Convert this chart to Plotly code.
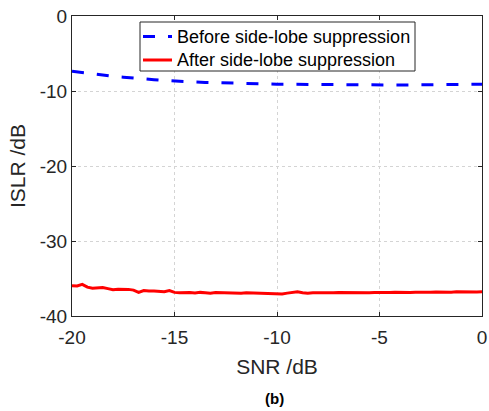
import plotly.graph_objects as go

# SNR axis samples (dB)
snr_before = [-20.0, -19.5, -19.0, -18.5, -18.0, -17.5, -17.0, -16.5, -16.0, -15.5,
              -15.0, -14.5, -14.0, -13.5, -13.0, -12.5, -12.0, -11.5, -11.0, -10.5,
              -10.0, -9.5, -9.0, -8.5, -8.0, -7.5, -7.0, -6.5, -6.0, -5.5,
              -5.0, -4.5, -4.0, -3.5, -3.0, -2.5, -2.0, -1.5, -1.0, -0.5, 0.0]
islr_before = [-7.35, -7.55, -7.75, -7.9, -8.05, -8.15, -8.3, -8.4, -8.5, -8.6,
               -8.7, -8.75, -8.8, -8.85, -8.9, -8.95, -9.0, -9.0, -9.05, -9.1,
               -9.1, -9.1, -9.12, -9.1, -9.12, -9.15, -9.18, -9.2, -9.2, -9.2,
               -9.18, -9.2, -9.2, -9.18, -9.15, -9.15, -9.12, -9.12, -9.1, -9.1, -9.1]

snr_after = [-20.0, -19.75, -19.5, -19.25, -19.0, -18.75, -18.5, -18.25, -18.0, -17.75,
             -17.5, -17.25, -17.0, -16.75, -16.5, -16.25, -16.0, -15.75, -15.5, -15.25,
             -15.0, -14.75, -14.5, -14.25, -14.0, -13.75, -13.5, -13.25, -13.0, -12.75,
             -12.5, -12.25, -12.0, -11.75, -11.5, -11.25, -11.0, -10.75, -10.5, -10.25,
             -10.0, -9.75, -9.5, -9.25, -9.0, -8.75, -8.5, -8.25, -8.0, -7.75,
             -7.5, -7.25, -7.0, -6.75, -6.5, -6.25, -6.0, -5.75, -5.5, -5.25,
             -5.0, -4.75, -4.5, -4.25, -4.0, -3.75, -3.5, -3.25, -3.0, -2.75,
             -2.5, -2.25, -2.0, -1.75, -1.5, -1.25, -1.0, -0.75, -0.5, -0.25, 0.0]
islr_after = [-35.95, -36.0, -35.78, -36.15, -36.3, -36.25, -36.2, -36.35, -36.5, -36.42,
              -36.4, -36.45, -36.55, -36.85, -36.6, -36.68, -36.65, -36.7, -36.75, -36.6,
              -36.85, -36.9, -36.85, -36.88, -36.92, -36.85, -36.9, -36.95, -36.88, -36.9,
              -36.95, -36.88, -36.9, -36.95, -36.9, -36.92, -36.95, -36.9, -36.98, -36.92,
              -36.95, -37.05, -36.95, -36.85, -36.78, -36.9, -36.95, -36.9, -36.92, -36.88,
              -36.92, -36.9, -36.88, -36.9, -36.92, -36.88, -36.9, -36.88, -36.9, -36.86,
              -36.88, -36.85, -36.88, -36.84, -36.86, -36.82, -36.85, -36.82, -36.84, -36.8,
              -36.82, -36.8, -36.83, -36.8, -36.82, -36.78, -36.8, -36.82, -36.78, -36.8, -36.78]

series_names = ["Before side-lobe suppression", "After side-lobe suppression"]
x_ticks = [-20, -15, -10, -5, 0]
x_tick_labels = ["-20", "-15", "-10", "-5", "0"]
y_ticks = [-40, -30, -20, -10, 0]
y_tick_labels = ["-40", "-30", "-20", "-10", "0"]

FONT = "Arial, Liberation Sans, Helvetica, sans-serif"
INK = "#262626"
W, H = 489, 411
L, R, T, B = 72, 7, 16, 95
PW, PH = W - L - R, H - T - B


def px_x(px):
    return (px - L) / PW


def px_y(py):
    return 1 - (py - T) / PH


styles = [dict(color="#0000ff", width=3, dash="12px,13px"),
          dict(color="#ff0000", width=3, dash="solid")]

fig = go.Figure()
fig.add_trace(go.Scatter(x=snr_before, y=islr_before, mode="lines",
                         name=series_names[0], line=styles[0], showlegend=False))
fig.add_trace(go.Scatter(x=snr_after, y=islr_after, mode="lines",
                         name=series_names[1], line=styles[1], showlegend=False))

axis_common = dict(
    automargin=False,
    showline=True, linecolor=INK, linewidth=1, mirror="ticks",
    ticks="inside", ticklen=4, tickcolor=INK, tickwidth=1,
    showgrid=True, gridcolor="#d4d4d4", gridwidth=1, griddash="dot",
    zeroline=False,
    tickfont=dict(family=FONT, size=19, color=INK),
)

fig.update_xaxes(
    range=[-20, 0], tickvals=x_ticks, ticktext=x_tick_labels,
    ticklabelstandoff=4,
    title=dict(text="SNR /dB", font=dict(family=FONT, size=21, color=INK), standoff=12),
    **axis_common,
)
fig.update_yaxes(
    range=[-40, 0], tickvals=y_ticks, ticktext=y_tick_labels,
    title=dict(text="ISLR /dB", font=dict(family=FONT, size=21, color=INK), standoff=8),
    **axis_common,
)

# legend box drawn in the MATLAB style (compact rows)
shapes = [dict(type="rect", xref="paper", yref="paper",
               x0=px_x(140), x1=px_x(415), y0=px_y(71), y1=px_y(22),
               line=dict(color=INK, width=1), fillcolor="white", layer="above")]
annotations = []
row_y = [36.5, 60]
for name, st, ry in zip(series_names, styles, row_y):
    shapes.append(dict(type="line", xref="paper", yref="paper",
                       x0=px_x(143), x1=px_x(172), y0=px_y(ry), y1=px_y(ry),
                       line=dict(color=st["color"], width=st["width"], dash=st["dash"]),
                       layer="above"))
    annotations.append(dict(text=name, xref="paper", yref="paper",
                            x=px_x(175), y=px_y(ry), xanchor="left", yanchor="middle",
                            showarrow=False, font=dict(family=FONT, size=18, color="black")))

annotations.append(dict(text="<b>(b)</b>", xref="paper", yref="paper",
                        x=px_x(274), y=px_y(398), xanchor="center", yanchor="middle",
                        showarrow=False, font=dict(family=FONT, size=15, color="black")))

fig.update_layout(
    template="none",
    width=W, height=H,
    margin=dict(l=L, r=R, t=T, b=B, autoexpand=False),
    plot_bgcolor="white", paper_bgcolor="white",
    showlegend=False,
    shapes=shapes,
    annotations=annotations,
)

fig.write_html("out.html", config={"displayModeBar": False},
               post_script="document.body.style.margin='0';document.body.style.overflow='hidden';")
